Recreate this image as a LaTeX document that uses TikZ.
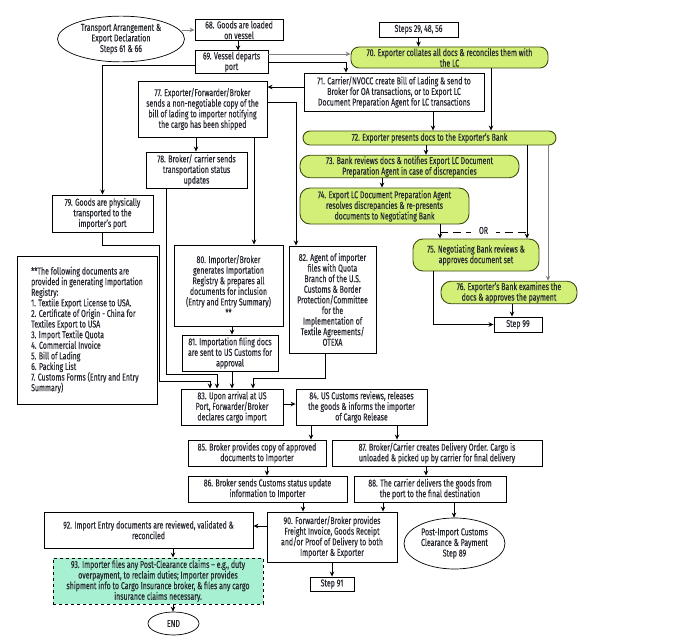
\documentclass[tikz,border=0pt]{standalone}
\usepackage{fontspec}
\setmainfont{Fira Sans}[FakeStretch=0.70, FakeBold=0.25]
\usepackage{xcolor}
\usetikzlibrary{shapes.geometric, arrows.meta, positioning, calc}
\definecolor{bankgreen}{HTML}{D2F078}
\definecolor{bankedge}{HTML}{3E4A10}
\definecolor{claimmint}{HTML}{A8F0D2}
\definecolor{inkgray}{HTML}{262830}

\begin{document}
\begin{tikzpicture}[
    x=1pt, y=-1pt,
    every node/.style={font=\fontsize{10}{10.6}\selectfont, text=inkgray, inner sep=1pt},
    box/.style={
        rectangle,
        draw=black,
        line width=0.9pt,
        align=center
    },
    greenbox/.style={
        rectangle,
        rounded corners=8pt,
        draw=bankedge,
        fill=bankgreen,
        line width=0.9pt,
        align=center
    },
    ellbox/.style={
        ellipse,
        draw=black,
        line width=0.7pt,
        align=center
    },
    myarrow/.style={
        -{Stealth[length=5pt,width=4.5pt]},
        line width=0.9pt,
        draw=black
    },
    grayarrow/.style={
        -{Stealth[length=5pt,width=4.5pt]},
        line width=0.9pt,
        draw=gray
    }
]
\useasboundingbox (0,0) rectangle (683,642);

% export side
\node[ellbox, minimum width=127, minimum height=44] (transport) at (121,39) {Transport Arrangement \&\\Export Declaration\\Steps 61 \& 66};
\node[box, minimum width=88, minimum height=21] (s68) at (239,30) {68. Goods are loaded\\on vessel};
\node[box, minimum width=73, minimum height=22] (s69) at (231.5,62) {69. Vessel departs\\port};
\node[box, minimum width=79, minimum height=15] (steps) at (418.5,29.5) {Steps 29, 48, 56};
\node[greenbox, minimum width=197, minimum height=21] (s70) at (449.5,57.5) {70. Exporter collates all docs \& reconciles them with\\the LC};
\node[box, minimum width=180, minimum height=38] (s71) at (394,92) {71. Carrier/NVOCC create Bill of Lading \& send to\\Broker for OA transactions, or to Export LC\\Document Preparation Agent for LC transactions};
\node[box, minimum width=129, minimum height=56] (s77) at (202.5,109) {77. Exporter/Forwarder/Broker\\sends a non-negotiable copy of the\\bill of lading to importer notifying\\the cargo has been shipped};
\node[box, minimum width=101, minimum height=36] (s78) at (196.5,170) {78. Broker/ carrier sends\\transportation status\\updates};
\node[box, minimum width=101, minimum height=37] (s79) at (102.5,213.5) {79. Goods are physically\\transported to the\\importer's port};

% bank side
\node[greenbox, rounded corners=7pt, minimum width=253, minimum height=14] (s72) at (429.5,138) {72. Exporter presents docs to the Exporter's Bank};
\node[greenbox, rounded corners=10pt, minimum width=219, minimum height=21] (s73) at (409.5,166.5) {73. Bank reviews docs \& notifies Export LC Document\\Preparation Agent in case of discrepancies};
\node[greenbox, rounded corners=10pt, minimum width=169, minimum height=36] (s74) at (384.5,206) {74. Export LC Document Preparation Agent\\resolves discrepancies \& re-presents\\documents to Negotiating Bank};
\node[greenbox, rounded corners=10pt, minimum width=126, minimum height=32] (s75) at (476,255) {75. Negotiating Bank reviews \&\\approves document set};
\node[greenbox, rounded corners=10pt, minimum width=136, minimum height=21] (s76) at (509,292.5) {76. Exporter's Bank examines the\\docs \& approves the payment};
\node[box, minimum width=48, minimum height=15] (s99) at (518,324.5) {Step 99};

% import side
\node[box, minimum width=109, minimum height=81] (s80) at (228.5,285.5) {80. Importer/Broker\\generates Importation\\Registry \& prepares all\\documents for inclusion\\(Entry and Entry Summary)\\**};
\node[box, minimum width=87, minimum height=107] (s82) at (332.5,299.5) {82. Agent of importer\\files with Quota\\Branch of the U.S.\\Customs \& Border\\Protection/Committee\\for the\\Implementation of\\Textile Agreements/\\OTEXA};
\node[box, minimum width=96, minimum height=36] (s81) at (230,353) {81. Importation filing docs\\are sent to US Customs for\\approval};
\node[box, minimum width=140, minimum height=148, align=left, inner xsep=3pt] (notes) at (87,330) {**The following documents are\\provided in generating Importation\\Registry:\\1. Textile Export License to USA.\\2. Certificate of Origin - China for\\Textiles Export to USA\\3. Import Textile Quota\\4. Commercial Invoice\\5. Bill of Lading\\6. Packing List\\7. Customs Forms (Entry and Entry\\Summary)};
\node[box, minimum width=102, minimum height=36] (s83) at (232,407) {83. Upon arrival at US\\Port, Forwarder/Broker\\declares cargo import};
\node[box, minimum width=131, minimum height=36] (s84) at (361.5,407) {84. US Customs reviews, releases\\the goods \& informs the importer\\of Cargo Release};
\node[box, minimum width=138, minimum height=26] (s85) at (257,453) {85. Broker provides copy of approved\\documents to Importer};
\node[box, minimum width=210, minimum height=26] (s87) at (437,453) {87. Broker/Carrier creates Delivery Order. Cargo is\\unloaded \& picked up by carrier for final delivery};
\node[box, minimum width=159, minimum height=26] (s86) at (267.5,489) {86. Broker sends Customs status update\\information to Importer};
\node[box, minimum width=152, minimum height=26] (s88) at (430,489) {88. The carrier delivers the goods from\\the port to the final destination};
\node[box, minimum width=130, minimum height=50] (s90) at (332,537) {90. Forwarder/Broker provides\\Freight Invoice, Goods Receipt\\and/or Proof of Delivery to both\\Importer \& Exporter};
\node[ellbox, minimum width=101, minimum height=51] (postimport) at (454.5,543.5) {Post-Import Customs\\Clearance \& Payment\\Step 89};
\node[box, minimum width=209, minimum height=36] (s92) at (148.5,530) {92. Import Entry documents are reviewed, validated \&\\reconciled};
\node[box, minimum width=44, minimum height=14] (s91) at (332,584) {Step 91};
\node[box, dashed, fill=claimmint, minimum width=210, minimum height=46] (s93) at (158,581) {93. Importer files any Post-Clearance claims -- e.g., duty\\overpayment, to reclaim duties; Importer provides\\shipment info to Cargo Insurance broker, \& files any cargo\\insurance claims necessary.};
\node[ellbox, minimum width=51, minimum height=23] (theend) at (173.5,623.5) {END};

% connectors
\draw[grayarrow] ([xshift=-3pt]transport.east |- s68.west) -- (s68.west);
\draw[myarrow] (s68.south -| 238,0) -- (s69.north -| 238,0);
\draw[grayarrow] (s69.east |- 0,54) -- (s70.west |- 0,54);
\draw[myarrow] (s69.east |- 0,62) -| ([xshift=-48pt]s71.north);
\draw[myarrow] (s69.west |- 0,65) -| (s79.north);
\draw[myarrow] (steps.south) -- (steps.south |- s70.north);
\draw[myarrow] (s70.south -| 491,0) -- (s72.north -| 491,0);
\draw[myarrow] (s71.south -| 433,0) -- (s72.north -| 433,0);
\draw[myarrow] (s71.west |- 0,87) -- (s77.east |- 0,87);
\draw[myarrow] (s77.east |- 0,102) -| (s82.north -| 296,0);
\draw[myarrow] (s77.south -| 196,0) -- (s78.north -| 196,0);
\draw[myarrow] (s77.south -| 254,0) -- (s80.north -| 254,0);
\draw[myarrow] (s79.south) -- ++(0,13) -| ($(s83.north -| 159,0)+(0,-7)$) -| (s83.north -| 210,0);
\draw[myarrow] (s78.south -| 166,0) |- ($(s83.north -| 217,0)+(0,-14)$) -- (s83.north -| 217,0);
\draw[myarrow] (s80.south -| 232,0) -- (s81.north -| 232,0);
\draw[myarrow] (s81.south -| 232,0) -- (s83.north -| 232,0);
\draw[myarrow] (s82.south -| 325,0) |- ($(s83.north -| 253,0)+(0,-10)$) -- (s83.north -| 253,0);

\draw[myarrow] (s72.south -| 426,0) -- (s73.north -| 426,0);
\draw[myarrow] (s73.south -| 382,0) -- (s74.north -| 382,0);
\draw[myarrow] (s72.south -| 527,0) -- (s75.north -| 527,0);
\draw[grayarrow] (s72.south -| 548,0) -- (s76.north -| 548,0);
\draw[myarrow] (s74.south -| 440,0) -- (s75.north -| 440,0);
\draw[dashed, line width=0.9pt, dash pattern=on 8pt off 5pt] ($(s74.south -| 440,0)+(0,8)$) -- node[fill=white, inner xsep=8pt, yshift=2pt] {OR} ($(s74.south -| 527,0)+(0,8)$);
\draw[myarrow] (s75.south -| 433,0) |- (s99.west);
\draw[myarrow] (s76.south -| 512,0) -- (s99.north -| 512,0);

\draw[myarrow] (s83.east |- 0,404) -- (s84.west |- 0,404);
\draw[myarrow] (s84.south -| 311,0) -- (s85.north -| 311,0);
\draw[myarrow] (s84.south -| 397,0) -- (s87.north -| 397,0);
\draw[myarrow] (s85.south -| 267,0) -- (s86.north -| 267,0);
\draw[myarrow] (s87.south -| 426,0) -- (s88.north -| 426,0);
\draw[myarrow] (s86.south -| 303,0) -- (s90.north -| 303,0);
\draw[myarrow] (s88.south -| 383,0) -- (s90.north -| 383,0);
\draw[myarrow] (s88.south -| 454,0) -- (postimport.north -| 454,0);
\draw[myarrow] (s90.west |- 0,526) -- (s92.east |- 0,526);
\draw[myarrow] (s90.south -| 332,0) -- (s91.north -| 332,0);
\draw[myarrow] (s92.south -| 173,0) -- (s93.north -| 173,0);
\draw[myarrow] (s93.south -| 173,0) -- (theend.north -| 173,0);

\end{tikzpicture}
\end{document}
